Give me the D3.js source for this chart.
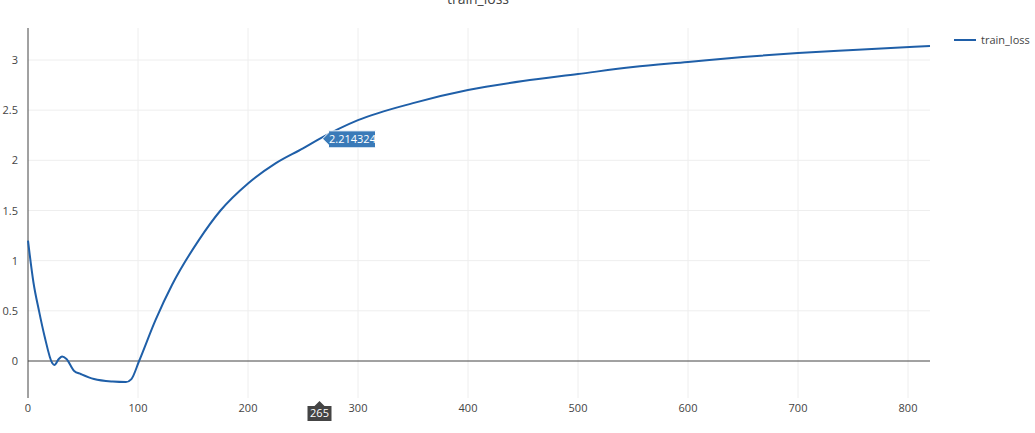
<!DOCTYPE html>
<html><head><meta charset="utf-8">
<script src="https://cdn.jsdelivr.net/npm/d3@7"></script>
<style>body{margin:0;background:#fff;font-family:"Open Sans",Arial,sans-serif}</style>
</head><body><svg id="c" width="1035" height="433"></svg>
<script>
const steps = [0,5,10,15,22,24,28,31,35,42,48,60,77,89,94,101,116,131,155,175,200,225,250,265,300,350,400,450,500,550,600,650,700,750,820];
const loss  = [1.2,0.78,0.5,0.25,-0.02,-0.04,0.02,0.045,0.02,-0.10,-0.13,-0.18,-0.205,-0.21,-0.18,0,0.41,0.76,1.2,1.5,1.77,1.97,2.12,2.214,2.4,2.57,2.70,2.79,2.86,2.93,2.98,3.03,3.07,3.10,3.14];
const xTicks = [0,100,200,300,400,500,600,700,800];
const yTicks = [0,0.5,1,1.5,2,2.5,3];
const hoverStep = 265, hoverVal = 2.214324;

const svg = d3.select("#c");
const x = d3.scaleLinear().domain([0,820]).range([28,930]);
const y = d3.scaleLinear().domain([0,3]).range([361,60]);
const plotTop = 28, plotBottom = 398;

svg.append("g").selectAll("line").data(xTicks.slice(1)).join("line")
  .attr("x1",d=>x(d)).attr("x2",d=>x(d)).attr("y1",plotTop).attr("y2",plotBottom).attr("stroke","#eee");
svg.append("g").selectAll("line").data(yTicks.slice(1)).join("line")
  .attr("x1",28).attr("x2",930).attr("y1",d=>y(d)).attr("y2",d=>y(d)).attr("stroke","#eee");
svg.append("line").attr("x1",28).attr("x2",930).attr("y1",y(0)).attr("y2",y(0)).attr("stroke","#444").attr("stroke-width",1);
svg.append("line").attr("x1",28).attr("x2",28).attr("y1",plotTop).attr("y2",plotBottom).attr("stroke","#444");

svg.append("g").selectAll("text").data(xTicks).join("text")
  .attr("x",d=>x(d)).attr("y",412).attr("text-anchor","middle").attr("font-size",11).attr("fill","#444").text(d=>d);
svg.append("g").selectAll("text").data(yTicks).join("text")
  .attr("x",18).attr("y",d=>y(d)+4).attr("text-anchor","end").attr("font-size",11).attr("fill","#444").text(d=>d);

svg.append("text").attr("x",478).attr("y",4).attr("text-anchor","middle").attr("font-size",14).attr("fill","#444").text("train_loss");

const line = d3.line().x((d,i)=>x(steps[i])).y(d=>y(d)).curve(d3.curveMonotoneX);
svg.append("path").attr("d",line(loss)).attr("fill","none").attr("stroke","#1f5fa8").attr("stroke-width",2);

svg.append("line").attr("x1",954).attr("x2",976).attr("y1",40).attr("y2",40).attr("stroke","#1f5fa8").attr("stroke-width",2);
svg.append("text").attr("x",981).attr("y",44).attr("font-size",11).attr("fill","#444").text("train_loss");

const hx = x(hoverStep), hy = y(hoverVal);
const g = svg.append("g");
g.append("path").attr("d",`M${hx+3},${hy} l6,-6 v-2 h47 v17 h-47 v-3 z`).attr("fill","#3a7ab8").attr("stroke","#fff").attr("stroke-width",1);
g.append("text").attr("x",hx+33).attr("y",hy+4).attr("text-anchor","middle").attr("font-size",11).attr("fill","#fff").text(hoverVal.toString());
const gx = svg.append("g");
gx.append("path").attr("d",`M${hx},401 l5,5 h7 v15 h-24 v-15 h7 z`).attr("fill","#444");
gx.append("text").attr("x",hx).attr("y",417).attr("text-anchor","middle").attr("font-size",11).attr("fill","#fff").text(hoverStep);
</script></body></html>
